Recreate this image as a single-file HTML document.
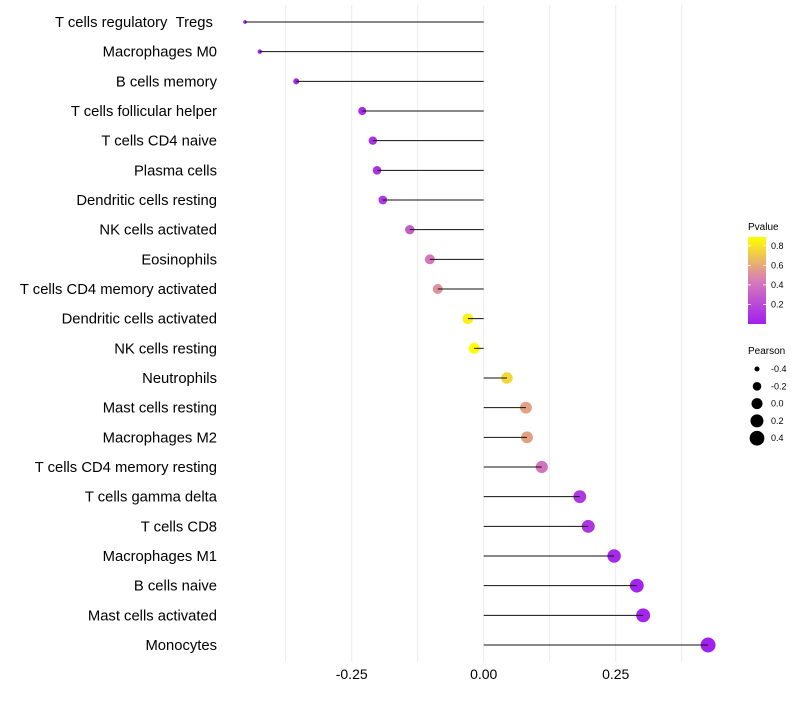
<!DOCTYPE html>
<html><head><meta charset="utf-8"><style>
body{margin:0;background:#fff;font-family:"Liberation Sans",sans-serif}
svg text{font-family:"Liberation Sans",sans-serif}
</style></head><body>
<svg id="chart" width="800" height="700"></svg>
<script>
const categories=["T cells regulatory\u00a0\u00a0Tregs\u00a0","Macrophages M0","B cells memory","T cells follicular helper","T cells CD4 naive","Plasma cells","Dendritic cells resting","NK cells activated","Eosinophils","T cells CD4 memory activated","Dendritic cells activated","NK cells resting","Neutrophils","Mast cells resting","Macrophages M2","T cells CD4 memory resting","T cells gamma delta","T cells CD8","Macrophages M1","B cells naive","Mast cells activated","Monocytes"];
const pearson=[-0.452,-0.424,-0.355,-0.230,-0.210,-0.202,-0.191,-0.140,-0.102,-0.087,-0.030,-0.018,0.044,0.080,0.082,0.110,0.182,0.198,0.247,0.290,0.302,0.425];
const pvalue=[0.01,0.02,0.03,0.06,0.08,0.09,0.12,0.30,0.42,0.52,0.84,0.89,0.75,0.57,0.57,0.40,0.12,0.10,0.04,0.02,0.02,0.01];
const xTicks=[-0.25,0,0.25];
const xTickLabels=["-0.25","0.00","0.25"];
const pTicks=[0.2,0.4,0.6,0.8];
const sizeTicks=[-0.4,-0.2,0,0.2,0.4];
const sizeTickLabels=["-0.4","-0.2","0.0","0.2","0.4"];

const NS="http://www.w3.org/2000/svg";
const svg=document.getElementById('chart');
function mk(t,a,p){const e=document.createElementNS(NS,t);for(const k in a)e.setAttribute(k,a[k]);(p||svg).appendChild(e);return e;}
const x0=483.7,kx=528;
const X=v=>x0+v*kx;
const Y=i=>22+i*(623/(categories.length-1));
const pMax=0.89;
function col(p){let t=Math.max(0,Math.min(1,p/pMax));
 const s=[[160,32,240],[216,124,184],[255,255,0]];
 let a,b,u;if(t<0.5){a=s[0];b=s[1];u=t/0.5}else{a=s[1];b=s[2];u=(t-0.5)/0.5}
 return `rgb(${a.map((c,i)=>Math.round(c+(b[i]-c)*u)).join(',')})`;}
const R=v=>Math.sqrt(Math.max(1.7,5+(v+0.424)*60));
const grid=mk('g',{});


for(let v=-0.375;v<=0.4;v+=0.125){mk('line',{x1:X(v),x2:X(v),y1:5,y2:662,stroke:'#ebebeb','stroke-width':1},grid);}
xTicks.forEach((v,i)=>{const t=mk('text',{x:X(v),y:679,'text-anchor':'middle','font-size':14,fill:'#000'});t.textContent=xTickLabels[i];

});
categories.forEach((c,i)=>{
 const t=mk('text',{x:217,y:Y(i)+5,'text-anchor':'end','font-size':14.8,fill:'#000'});t.textContent=c;
 
 
 const d=mk('circle',{cx:X(pearson[i]),cy:Y(i),r:R(pearson[i]),fill:col(pvalue[i])});
 
 
 const l=mk('line',{x1:X(0),x2:X(pearson[i]),y1:Y(i),y2:Y(i),stroke:'#111','stroke-width':1});
 
 
});
const lg=mk('g',{});


const defs=mk('defs',{});
const gr=mk('linearGradient',{id:'pg',x1:0,y1:1,x2:0,y2:0},defs);
mk('stop',{offset:'0','stop-color':col(0)},gr);mk('stop',{offset:'0.5','stop-color':col(pMax/2)},gr);mk('stop',{offset:'1','stop-color':col(pMax)},gr);
let tt=mk('text',{x:748,y:230,'font-size':10},lg);tt.textContent='Pvalue';
const by0=324,bh=87;
mk('rect',{x:748,y:by0-bh,width:18,height:bh,fill:'url(#pg)'},lg);
pTicks.forEach(p=>{const y=by0-p/pMax*bh;
 mk('line',{x1:748,x2:751,y1:y,y2:y,stroke:'#fff','stroke-width':0.8},lg);
 mk('line',{x1:763,x2:766,y1:y,y2:y,stroke:'#fff','stroke-width':0.8},lg);
 const t=mk('text',{x:771,y:y+3,'font-size':9},lg);t.textContent=p.toFixed(1);});
const sg=mk('g',{});


tt=mk('text',{x:748,y:354,'font-size':10},sg);tt.textContent='Pearson';
sizeTicks.forEach((v,i)=>{const y=369+i*17.3;
 mk('circle',{cx:757,cy:y,r:R(v),fill:'#000'},sg);
 const t=mk('text',{x:771,y:y+3,'font-size':9},sg);t.textContent=sizeTickLabels[i];});
</script>
</body></html>
